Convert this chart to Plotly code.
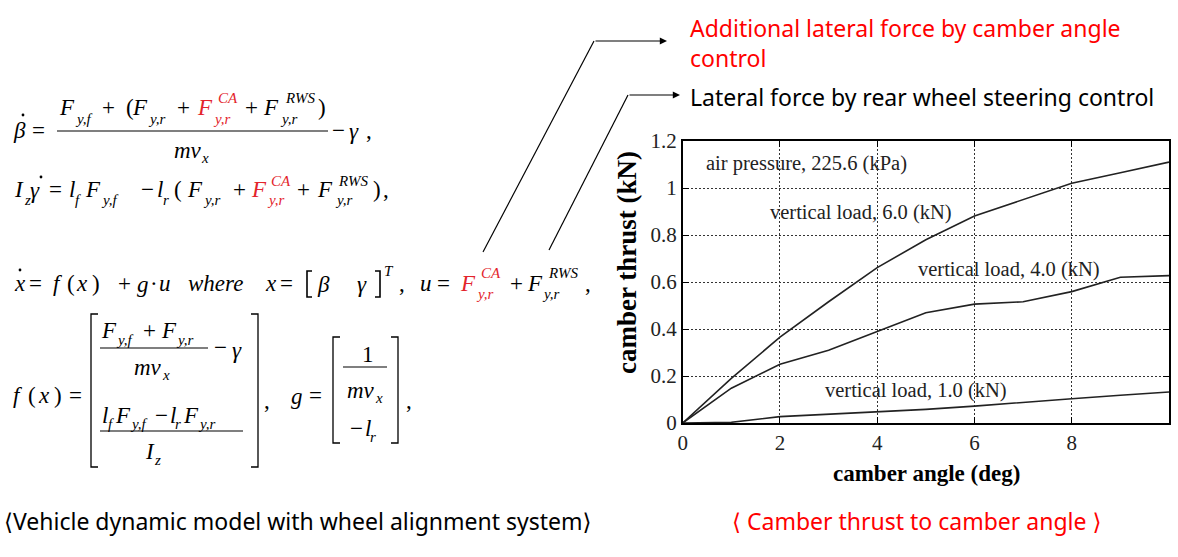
import plotly.graph_objects as go

W, H = 1178, 557

# ---------------- data ----------------
camber_angle = [0, 1, 2, 3, 4, 5, 6, 7, 8, 9, 10]
thrust_6kN = [0, 0.19, 0.365, 0.516, 0.661, 0.78, 0.881, 0.952, 1.02, 1.065, 1.11]
thrust_4kN = [0, 0.148, 0.25, 0.31, 0.389, 0.469, 0.506, 0.516, 0.559, 0.62, 0.627]
thrust_1kN = [0, 0.003, 0.027, 0.037, 0.048, 0.058, 0.072, 0.086, 0.103, 0.118, 0.132]
x_ticks = [0, 2, 4, 6, 8]
y_ticks = [0, 0.2, 0.4, 0.6, 0.8, 1.0, 1.2]
y_ticktext = ["0", "0.2", "0.4", "0.6", "0.8", "1", "1.2"]
curve_labels = ["air pressure, 225.6 (kPa)", "vertical load, 6.0 (kN)",
                "vertical load, 4.0 (kN)", "vertical load, 1.0 (kN)"]
label_x = [0.45, 1.78, 4.81, 2.91]
label_y = [1.106, 0.894, 0.655, 0.14]

SERIF = "Liberation Serif"
SANS = "Noto Sans, DejaVu Sans"
RED_EQ = "#e3242b"
RED = "#ff0000"

def px(x):
    return x / W

def py(y):
    return 1 - y / H

annotations = []
shapes = []

def T(x, y, s, size=20, color="black", italic=False, family=SERIF, anchor="left", bold=False, angle=0):
    t = s
    if italic:
        t = "<i>" + t + "</i>"
    if bold:
        t = "<b>" + t + "</b>"
    annotations.append(dict(x=px(x), y=py(y), xref="paper", yref="paper", text=t,
                            showarrow=False, xanchor=anchor, yanchor="middle", align="left",
                            textangle=angle, borderpad=0,
                            font=dict(family=family, size=size, color=color)))

def piece(p):
    x, y, s, kind = p
    color = RED_EQ if kind.endswith("r") else "black"
    k = kind[0]
    if k == "i":
        T(x, y, s, 23, color, italic=True)
    elif k == "n":
        T(x, y, s, 23, color)
    elif k == "s":
        T(x, y, s, 15, color, italic=True)

def hline(x0, x1, y, w=1.2, color="black"):
    shapes.append(dict(type="line", xref="paper", yref="paper", x0=px(x0), x1=px(x1),
                       y0=py(y), y1=py(y), line=dict(color=color, width=w)))

def dot(x, y, r=1.4):
    shapes.append(dict(type="circle", xref="paper", yref="paper", x0=px(x - r), x1=px(x + r),
                       y0=py(y - r), y1=py(y + r), fillcolor="black", line=dict(width=0)))

def bracket(x, y0, y1, side, s=7, w=1.3):
    d = s if side == "l" else -s
    path = "M {a},{b} L {c},{b} L {c},{e} L {a},{e}".format(
        a=px(x + d), b=py(y0), c=px(x), e=py(y1))
    shapes.append(dict(type="path", xref="paper", yref="paper", path=path,
                       line=dict(color="black", width=w)))

# ---------------- equations ----------------
line1 = [
    (12, 130, "β", "i"), (31, 130, "=", "n"),
    (58, 107, "F", "i"), (74, 119, "y,f", "s"), (101, 107, "+", "n"), (125, 107, "(", "n"),
    (131, 107, "F", "i"), (147, 119, "y,r", "s"), (176, 107, "+", "n"),
    (196, 107, "F", "ir"), (217, 98, "CA", "sr"), (212, 119, "y,r", "sr"),
    (244, 107, "+", "n"), (262, 107, "F", "i"), (284, 98, "RWS", "s"), (279, 119, "y,r", "s"),
    (317, 107, ")", "n"),
    (173, 150, "mv", "i"), (200, 158, "x", "s"),
    (331, 130, "−", "n"), (348, 132, "γ", "i"), (365, 130, ",", "n"),
]
line2 = [
    (13, 190, "I", "i"), (23, 200, "z", "s"), (29, 191, "γ", "i"), (48, 190, "=", "n"),
    (68, 190, "l", "i"), (74, 200, "f", "s"), (84, 190, "F", "i"), (100, 200, "y,f", "s"),
    (140, 190, "−", "n"), (156, 190, "l", "i"), (162, 200, "r", "s"), (173, 190, "(", "n"),
    (186, 190, "F", "i"), (202, 200, "y,r", "s"), (232, 190, "+", "n"),
    (250, 190, "F", "ir"), (270, 181, "CA", "sr"), (266, 200, "y,r", "sr"),
    (296, 190, "+", "n"), (316, 190, "F", "i"), (337, 181, "RWS", "s"), (334, 200, "y,r", "s"),
    (372, 190, ")", "n"), (382, 190, ",", "n"),
]
line3 = [
    (13, 283, "x", "i"), (28, 283, "=", "n"), (52, 283, "f", "i"), (66, 283, "(", "n"),
    (75, 283, "x", "i"), (91, 283, ")", "n"),
    (117, 283, "+", "n"), (136, 284, "g", "i"), (149, 283, "·", "n"), (158, 283, "u", "i"),
    (187, 283, "where", "i"), (264, 283, "x", "i"), (279, 283, "=", "n"),
    (316, 284, "β", "i"), (356, 284, "γ", "i"), (383, 271, "T", "s"),
    (398, 283, ",", "n"),
    (419, 283, "u", "i"), (436, 283, "=", "n"), (459, 283, "F", "ir"), (480, 273, "CA", "sr"),
    (475, 294, "y,r", "sr"),
    (509, 283, "+", "n"), (526, 283, "F", "i"), (547, 273, "RWS", "s"), (541, 294, "y,r", "s"),
    (584, 283, ",", "n"),
]
block4 = [
    (12, 395, "f", "i"), (27, 395, "(", "n"), (37, 395, "x", "i"), (53, 395, ")", "n"), (68, 395, "=", "n"),
    (100, 330, "F", "i"), (115, 340, "y,f", "s"), (142, 330, "+", "n"), (160, 330, "F", "i"),
    (175, 340, "y,r", "s"),
    (133, 367, "mv", "i"), (161, 375, "x", "s"),
    (213, 347, "−", "n"), (231, 350, "γ", "i"),
    (101, 415, "l", "i"), (107, 424, "f", "s"), (114, 415, "F", "i"), (129, 424, "y,f", "s"),
    (154, 415, "−", "n"), (169, 415, "l", "i"), (174, 424, "r", "s"), (182, 415, "F", "i"),
    (197, 424, "y,r", "s"),
    (144, 451, "I", "i"), (153, 460, "z", "s"),
    (263, 400, ",", "n"),
    (290, 396, "g", "i"), (308, 395, "=", "n"),
    (361, 354, "1", "n"), (346, 390, "mv", "i"), (374, 398, "x", "s"),
    (349, 428, "−", "n"), (364, 428, "l", "i"), (369, 437, "r", "s"),
    (405, 400, ",", "n"),
]
for p in line1 + line2 + line3 + block4:
    piece(p)

hline(57, 328, 131)
hline(100, 208, 348)
hline(100, 243, 431)
hline(343, 387, 367)
dot(23, 115)
dot(41, 177)
dot(20, 270)
bracket(307, 271, 297, "l", s=5, w=1.6)
bracket(380, 271, 297, "r", s=5, w=1.6)
bracket(91, 314, 467, "l")
bracket(258, 314, 467, "r")
bracket(333, 337, 443, "l")
bracket(398, 337, 443, "r")

# ---------------- callouts ----------------
T(689, 43.5, "Additional lateral force by camber angle<br>control", 23, RED, family=SANS)
T(689, 97, "Lateral force by rear wheel steering control", 23, "black", family=SANS)
T(3, 521, "⟨Vehicle dynamic model with wheel alignment system⟩", 23, "black", family=SANS)
T(731, 521, "⟨ Camber thrust to camber angle ⟩", 23, RED, family=SANS)

shapes.append(dict(type="line", xref="paper", yref="paper", x0=px(483), y0=py(252),
                   x1=px(594), y1=py(41), line=dict(color="black", width=1.2)))
shapes.append(dict(type="line", xref="paper", yref="paper", x0=px(549), y0=py(250),
                   x1=px(628), y1=py(95), line=dict(color="black", width=1.2)))
for (x0, x1, y) in [(594, 667, 41), (628, 680, 95)]:
    annotations.append(dict(x=px(x1), y=py(y), xref="paper", yref="paper", text="",
                            showarrow=True, ax=x0 - x1, ay=0, arrowhead=2, arrowsize=1.2,
                            arrowwidth=1.2, arrowcolor="black", standoff=0, startstandoff=0))

# chart axis titles
T(926, 473, "camber angle (deg)", 23, "black", bold=True, anchor="center")
T(627, 263, "camber thrust (kN)", 27, "black", bold=True, anchor="center", angle=-90)

# curve labels
for s, lx, ly in zip(curve_labels, label_x, label_y):
    annotations.append(dict(x=lx, y=ly, xref="x", yref="y", text=s, showarrow=False,
                            xanchor="left", yanchor="middle", borderpad=0,
                            font=dict(family=SERIF, size=20.5, color="#222")))

# ---------------- chart ----------------
fig = go.Figure()
for ys in [thrust_6kN, thrust_4kN, thrust_1kN]:
    fig.add_trace(go.Scatter(x=camber_angle, y=ys, mode="lines",
                             line=dict(color="#222", width=1.6), showlegend=False,
                             hoverinfo="skip"))

x0p, x1p, y0p, y1p = 682.7, 1169, 141, 423
axis_common = dict(ticks="inside", ticklen=6, tickcolor="black", mirror="ticks",
                   showline=True, linecolor="black", linewidth=1.6,
                   showgrid=True, gridcolor="#333", griddash="2px,2px", gridwidth=1,
                   zeroline=False, automargin=False,
                   tickfont=dict(family=SERIF, size=21, color="#222"))
fig.update_layout(
    width=W, height=H, autosize=False,
    margin=dict(l=0, r=0, t=0, b=0, pad=0, autoexpand=False),
    paper_bgcolor="white", plot_bgcolor="white",
    showlegend=False,
    annotations=annotations, shapes=shapes,
    xaxis=dict(domain=[x0p / W, x1p / W], range=[0, 10], tickvals=x_ticks, **axis_common),
    yaxis=dict(domain=[1 - y1p / H, 1 - y0p / H], range=[0, 1.2], tickvals=y_ticks,
               ticktext=y_ticktext, **axis_common),
)

fig.write_html("out.html", config={"displayModeBar": False},
               post_script="document.body.style.margin='0';document.body.style.overflow='hidden';")
